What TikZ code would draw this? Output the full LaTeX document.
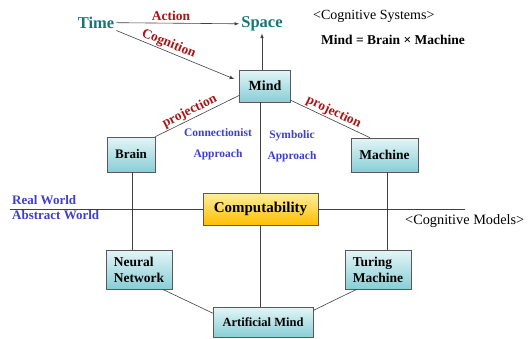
\documentclass[tikz,border=0pt]{standalone}
\usepackage{fontspec}
\setmainfont{Liberation Serif}
\usepackage{tikz}

\definecolor{spacecol}{RGB}{22,118,118}
\definecolor{redlab}{RGB}{168,22,22}
\definecolor{bluelab}{RGB}{62,62,210}
\definecolor{boxtop}{RGB}{228,245,247}
\definecolor{boxbot}{RGB}{136,206,214}
\definecolor{comptop}{RGB}{255,238,160}
\definecolor{compbot}{RGB}{255,190,0}
\newcommand{\fsz}[2]{\fontsize{#1}{#2}\selectfont}

\tikzset{
    box/.style={draw=black!65, line width=0.6pt, top color=boxtop, bottom color=boxbot, inner sep=0pt, font=\bfseries\fsz{13.5}{16}, align=left},
    link/.style={draw=black!75, line width=0.6pt},
    redlbl/.style={text=redlab, font=\bfseries\fsz{13.5}{16}, inner sep=1pt},
    bluelbl/.style={text=bluelab, font=\bfseries\fsz{11.5}{20.5}, align=center},
    plain/.style={anchor=west, inner sep=0pt},
}

\begin{document}
\begin{tikzpicture}[x=1pt,y=-1pt]
    \useasboundingbox (0,0) rectangle (528,338);

    \node[text=spacecol, font=\bfseries\fsz{16.5}{18}, inner sep=2pt] at (96,22.5)  (time)  {Time};
    \node[text=spacecol, font=\bfseries\fsz{16.5}{18}, inner sep=2pt] at (262,24)   (space) {Space};

    \node[box, minimum width=51, minimum height=32, font=\bfseries\fsz{14}{16}] at (265,86)    (mind)    {Mind};
    \node[box, minimum width=48, minimum height=35, font=\bfseries\fsz{13}{16}] at (131,154.5) (brain)   {Brain};
    \node[box, minimum width=67, minimum height=34]                            at (384.5,155) (machine) {Machine};
    \node[box, minimum width=115, minimum height=32, top color=comptop, bottom color=compbot, font=\bfseries\fsz{15}{16}] at (260.5,209) (comp) {Computability};
    \node[box, minimum width=66, minimum height=39] at (139,269.5) (nn) {Neural\\Network};
    \node[box, minimum width=66, minimum height=39] at (378,269.5) (tm) {Turing\\Machine};
    \node[box, minimum width=100, minimum height=30, font=\bfseries\fsz{12.5}{16}] at (263,322) (am) {Artificial Mind};

    \node[redlbl] at (171,16) (action) {Action};
    \node[bluelbl] at (218,144) (conn) {Connectionist\\Approach};
    \node[bluelbl] at (292,146) (symb) {Symbolic\\Approach};

    \node[plain, font=\fsz{14}{16}] at (313,16.5) (csys) {<Cognitive Systems>};
    \node[plain, font=\bfseries\fsz{13.5}{16}] at (321,40) (eqn) {Mind = Brain × Machine};
    \node[plain, font=\fsz{14.3}{16}] at (405,221) (cmod) {<Cognitive Models>};
    \node[plain, text=bluelab, font=\bfseries\fsz{13}{16}] at (12,200) (real) {Real World};
    \node[plain, text=bluelab, font=\bfseries\fsz{13}{16}] at (12,215.5) (abst) {Abstract World};

    \coordinate (wl) at (10,209);
    \coordinate (wr) at (465,209);

    \draw[link, -latex] (time) -- (space);
    \draw[link, -latex] (time.south east) -- node[redlbl, sloped, above, pos=0.42] {Cognition} ([xshift=-5pt, yshift=7pt]mind.west);
    \draw[link, -latex] (space.south |- mind.north) -- (space.south);
    \draw[link] (brain.north east) -- node[redlbl, sloped, above, pos=0.45] {projection} (mind.200);
    \draw[link] (mind.331) -- node[redlbl, sloped, above, pos=0.5] {projection} (machine.130);
    \draw[link] (comp.north |- mind.south) -- (comp.north);
    \draw[link] (comp.south) -- (comp.south |- am.north);
    \draw[link] ([xshift=1pt]brain.south) -- ([xshift=1pt]brain.south |- nn.north);
    \draw[link] ([xshift=2.5pt]machine.south) -- ([xshift=2.5pt]machine.south |- tm.north);
    \draw[link] (wl) -- (comp.west);
    \draw[link] (comp.east) -- (wr);
    \draw[link] (nn.320) -- (am.170);
    \draw[link] (tm.223) -- (am.13);
\end{tikzpicture}
\end{document}
